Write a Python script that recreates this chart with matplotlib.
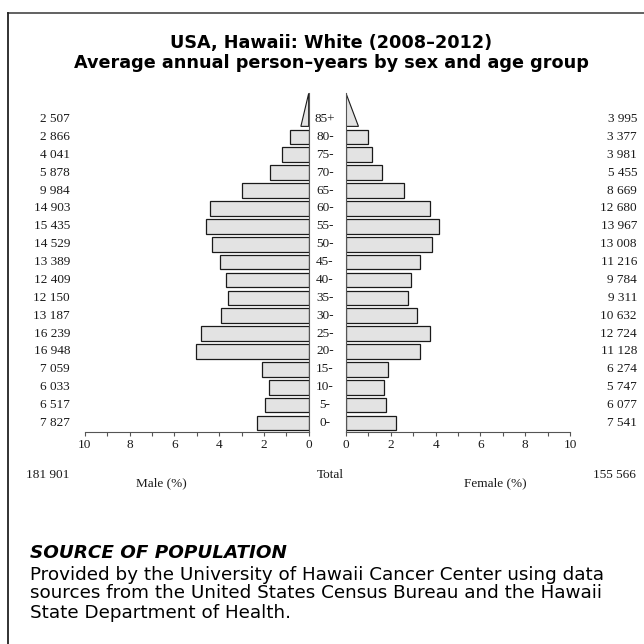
import numpy as np
import matplotlib
matplotlib.use("Agg")
import matplotlib.pyplot as plt
import matplotlib.transforms as mtransforms
from matplotlib.lines import Line2D
from matplotlib.patches import Polygon
from matplotlib.ticker import MultipleLocator

# age groups, bottom to top
ages = ['0-', '5-', '10-', '15-', '20-', '25-', '30-', '35-', '40-',
        '45-', '50-', '55-', '60-', '65-', '70-', '75-', '80-', '85+']
male = [7827, 6517, 6033, 7059, 16948, 16239, 13187, 12150, 12409,
        13389, 14529, 15435, 14903, 9984, 5878, 4041, 2866, 2507]
female = [7541, 6077, 5747, 6274, 11128, 12724, 10632, 9311, 9784,
          11216, 13008, 13967, 12680, 8669, 5455, 3981, 3377, 3995]

title_lines = ['USA, Hawaii: White (2008\u20132012)',
               'Average annual person\u2013years by sex and age group']
source_head = 'SOURCE OF POPULATION'
source_lines = ['Provided by the University of Hawaii Cancer Center using data',
                'sources from the United States Census Bureau and the Hawaii',
                'State Department of Health.']

FILL = '#e3e3e3'
EDGE = '#1a1a1a'
SPINE = '#555555'
TXT = '#1a1a1a'
SERIF = 'Liberation Serif'
SANS = 'DejaVu Sans'
TRI = 0.47       # width of the open 85+ triangle relative to its share
BAR_H = 0.82

plt.rcParams['font.family'] = SERIF


def fmt(v):
    return f'{v:,}'.replace(',', ' ')


W = H = 644
fig = plt.figure(figsize=(6.44, 6.44), dpi=100)


def fx(px):
    return px / W


def fy(py):
    return 1 - py / H


grand = sum(male) + sum(female)
pm = np.array(male) / grand * 100
pf = np.array(female) / grand * 100
y = np.arange(len(ages))
ylo, yhi = -0.487, 18.44

ax_m = fig.add_axes([fx(84.7), fy(431.7), (308.7 - 84.7) / W, (431.7 - 93.3) / H])
ax_f = fig.add_axes([fx(346), fy(431.7), (570 - 346) / W, (431.7 - 93.3) / H])

for ax, p, side in [(ax_m, pm, 'right'), (ax_f, pf, 'left')]:
    ax.barh(y[:-1], p[:-1], height=BAR_H, color=FILL, edgecolor=EDGE, linewidth=0.9)
    base = y[-1] - BAR_H / 2
    tri = Polygon([[0, base], [p[-1] * TRI, base], [0, yhi]], closed=True,
                  facecolor=FILL, edgecolor=EDGE, linewidth=0.8)
    ax.add_patch(tri)
    ax.set_xlim(0, 10)
    ax.set_ylim(ylo, yhi)
    ax.set_yticks([])
    for s in ['top', 'left', 'right']:
        ax.spines[s].set_visible(s == side)
    ax.spines[side].set_color(SPINE)
    ax.spines['bottom'].set_color(SPINE)
    ax.xaxis.set_major_locator(MultipleLocator(2))
    ax.xaxis.set_minor_locator(MultipleLocator(1))
    ax.tick_params(axis='x', which='both', direction='out', length=3, width=0.8,
                   color=SPINE, labelcolor=TXT, labelsize=9.5, pad=2.5)
    ax.patch.set_alpha(0)

ax_m.set_xlim(10, 0)

# counts and age labels
tl = mtransforms.blended_transform_factory(fig.transFigure, ax_m.transData)
for i in range(len(ages)):
    ax_m.text(fx(70), y[i], fmt(male[i]), transform=tl, ha='right', va='center',
              fontsize=9.5, color=TXT)
    ax_m.text(fx(637), y[i], fmt(female[i]), transform=tl, ha='right', va='center',
              fontsize=9.5, color=TXT)
    ax_m.text(fx(325), y[i], ages[i], transform=tl, ha='center', va='center',
              fontsize=9.5, color=TXT)

fig.text(fx(26), fy(475), fmt(sum(male)), ha='left', va='center', fontsize=9.5, color=TXT)
fig.text(fx(330), fy(475), 'Total', ha='center', va='center', fontsize=9.5, color=TXT)
fig.text(fx(636), fy(475), fmt(sum(female)), ha='right', va='center', fontsize=9.5, color=TXT)
fig.text(fx(161), fy(483), 'Male (%)', ha='center', va='center', fontsize=9.5, color=TXT)
fig.text(fx(495), fy(483), 'Female (%)', ha='center', va='center', fontsize=9.5, color=TXT)

# title
fig.text(fx(331), fy(42.7), title_lines[0], ha='center', va='center', family=SANS,
         fontweight='bold', fontsize=12.7, color='black')
fig.text(fx(331), fy(63.5), title_lines[1], ha='center', va='center', family=SANS,
         fontweight='bold', fontsize=12.7, color='black')

# source block
fig.text(fx(30), fy(553.5), source_head, ha='left', va='center', family=SANS,
         fontweight='bold', fontstyle='italic', fontsize=13.2, color='black')
for k, line in enumerate(source_lines):
    fig.text(fx(30), fy(574.5 + 19 * k), line, ha='left', va='center', family=SANS,
             fontsize=13.2, color='black')

# frame
fig.add_artist(Line2D([fx(8.3), 1], [fy(12.7), fy(12.7)], transform=fig.transFigure,
                      color='#555555', linewidth=1.3))
fig.add_artist(Line2D([fx(8.3), fx(8.3)], [fy(12.7), 0], transform=fig.transFigure,
                      color='#222222', linewidth=1.3))

fig.savefig('out.png', dpi=100)
